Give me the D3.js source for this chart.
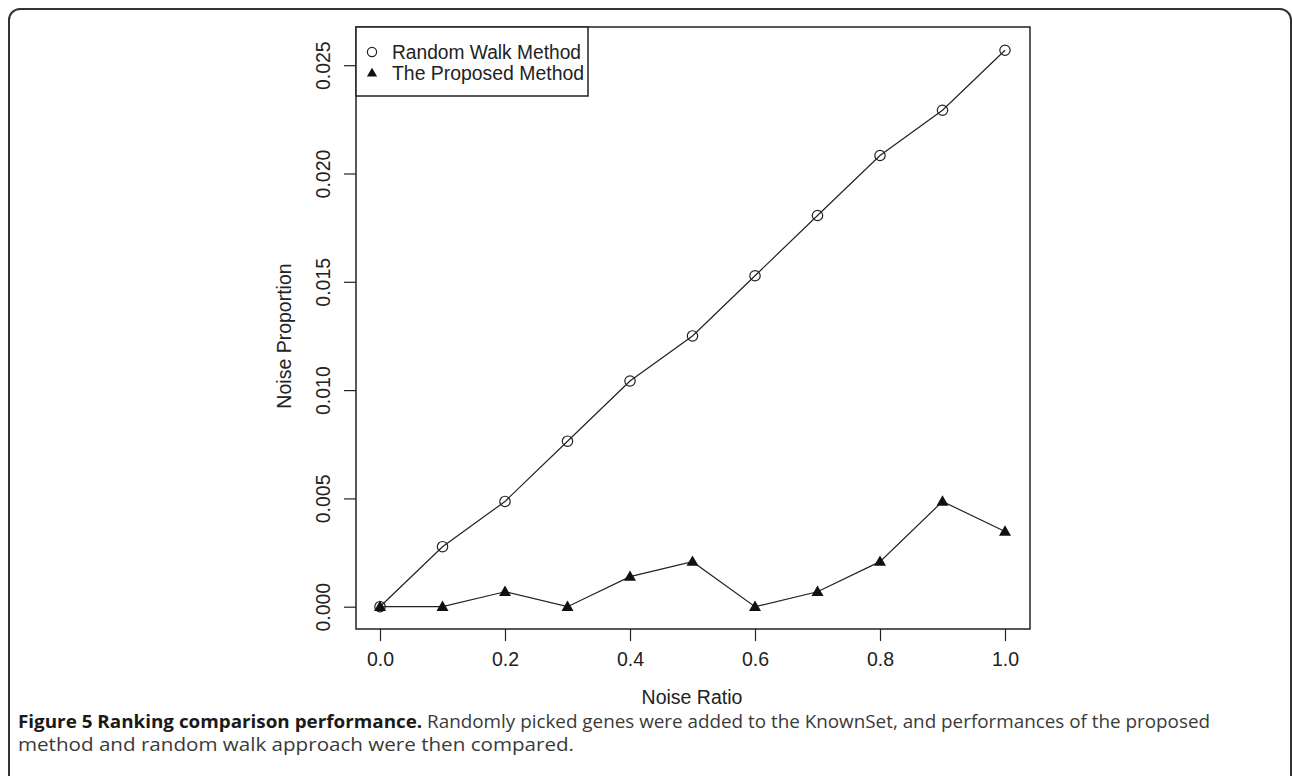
<!DOCTYPE html>
<html>
<head>
<meta charset="utf-8">
<script src="https://cdn.jsdelivr.net/npm/d3@7"></script>
<style>
  html, body { margin: 0; padding: 0; background: #fff; }
  svg { display: block; }
</style>
</head>
<body>
<div id="chart"></div>
<script>
// Chart data
const noiseRatio = [0.0, 0.1, 0.2, 0.3, 0.4, 0.5, 0.6, 0.7, 0.8, 0.9, 1.0];
const randomWalk = [0.0, 0.00277, 0.00486, 0.00764, 0.01042, 0.0125, 0.01528, 0.01806, 0.02083, 0.02292, 0.02569];
const proposed = [0.0, 0.0, 0.00069, 0.0, 0.00139, 0.00208, 0.0, 0.00069, 0.00208, 0.00486, 0.00347];
const xTicks = [0.0, 0.2, 0.4, 0.6, 0.8, 1.0];
const yTicks = [0.000, 0.005, 0.010, 0.015, 0.020, 0.025];
const seriesNames = ['Random Walk Method', 'The Proposed Method'];

const W = 1292, H = 776;
const ink = '#222';
const font = 'Liberation Sans, Arial, Helvetica, sans-serif';
const fs = 19.5;

const svg = d3.select('#chart').append('svg')
    .attr('width', W)
    .attr('height', H);

// Outer figure frame
svg.append('rect')
    .attr('x', 9).attr('y', 9)
    .attr('width', 1282).attr('height', 820)
    .attr('rx', 11)
    .attr('fill', 'none')
    .attr('stroke', '#333')
    .attr('stroke-width', 2);

// Plot box
const box = {left: 356, right: 1030, top: 27, bottom: 629};

const x = d3.scaleLinear().domain([0, 1]).range([380, 1005]);
const y = d3.scaleLinear().domain([0, 0.025]).range([606.7, 65.2]);

// X axis
const xAxis = svg.append('g')
    .attr('transform', `translate(0,${box.bottom})`)
    .call(d3.axisBottom(x).tickValues(xTicks).tickFormat(d3.format('.1f')).tickSize(12).tickPadding(11));
xAxis.select('.domain').remove();
xAxis.selectAll('line').attr('stroke', ink).attr('stroke-width', 1.2);
xAxis.selectAll('text')
    .attr('font-family', font).attr('font-size', fs).attr('fill', ink);

// Y axis
const yAxis = svg.append('g')
    .attr('transform', `translate(${box.left},0)`)
    .call(d3.axisLeft(y).tickValues(yTicks).tickFormat(d3.format('.3f')).tickSize(12));
yAxis.select('.domain').remove();
yAxis.selectAll('line').attr('stroke', ink).attr('stroke-width', 1.2);
yAxis.selectAll('text')
    .attr('font-family', font).attr('font-size', fs).attr('fill', ink)
    .attr('x', null)
    .attr('text-anchor', 'middle')
    .attr('transform', 'translate(-33,0) rotate(-90)')
    .attr('dy', '0.35em');

// Box
svg.append('rect')
    .attr('x', box.left).attr('y', box.top)
    .attr('width', box.right - box.left).attr('height', box.bottom - box.top)
    .attr('fill', 'none')
    .attr('stroke', ink)
    .attr('stroke-width', 1.5);

// Axis titles
svg.append('text')
    .attr('x', 692).attr('y', 704)
    .attr('text-anchor', 'middle')
    .attr('font-family', font).attr('font-size', fs).attr('fill', ink)
    .text('Noise Ratio');

svg.append('text')
    .attr('transform', 'translate(291,336) rotate(-90)')
    .attr('text-anchor', 'middle')
    .attr('font-family', font).attr('font-size', fs).attr('fill', ink)
    .text('Noise Proportion');

// Lines
const line = d3.line()
    .x((d, i) => x(noiseRatio[i]))
    .y(d => y(d));

[randomWalk, proposed].forEach(series => {
    svg.append('path')
        .datum(series)
        .attr('d', line)
        .attr('fill', 'none')
        .attr('stroke', ink)
        .attr('stroke-width', 1.2);
});

// Markers
const triangle = 'M0,-6.2L6,4.2L-6,4.2Z';

svg.selectAll('.circ')
    .data(randomWalk)
    .enter().append('circle')
    .attr('class', 'circ')
    .attr('cx', (d, i) => x(noiseRatio[i]))
    .attr('cy', d => y(d))
    .attr('r', 5.2)
    .attr('fill', 'none')
    .attr('stroke', ink)
    .attr('stroke-width', 1.2);

svg.selectAll('.tri')
    .data(proposed)
    .enter().append('path')
    .attr('class', 'tri')
    .attr('d', triangle)
    .attr('transform', (d, i) => `translate(${x(noiseRatio[i])},${y(d)})`)
    .attr('fill', '#111');

// Legend
const legend = svg.append('g');
legend.append('rect')
    .attr('x', box.left).attr('y', box.top)
    .attr('width', 232).attr('height', 69)
    .attr('fill', '#fff')
    .attr('stroke', ink)
    .attr('stroke-width', 1.5);

legend.append('circle')
    .attr('cx', 372).attr('cy', 52)
    .attr('r', 4.6)
    .attr('fill', 'none')
    .attr('stroke', ink)
    .attr('stroke-width', 1.2);

legend.append('path')
    .attr('d', triangle)
    .attr('transform', 'translate(372,73) scale(0.85)')
    .attr('fill', '#111');

legend.selectAll('.lab')
    .data(seriesNames)
    .enter().append('text')
    .attr('class', 'lab')
    .attr('x', 392)
    .attr('y', (d, i) => 59 + i * 21)
    .attr('font-family', font).attr('font-size', fs).attr('fill', ink)
    .attr('textLength', (d, i) => i ? 192 : 189)
    .attr('lengthAdjust', 'spacingAndGlyphs')
    .text(d => d);

// Caption
const capFont = '"Open Sans", "Noto Sans", sans-serif';
const cap1 = svg.append('text')
    .attr('x', 18).attr('y', 728)
    .attr('font-family', capFont).attr('font-size', 18.5)
    .attr('textLength', 1192)
    .attr('lengthAdjust', 'spacingAndGlyphs');
cap1.append('tspan')
    .attr('font-weight', 'bold').attr('fill', '#1a1a1a')
    .text('Figure 5 Ranking comparison performance.');
cap1.append('tspan')
    .attr('fill', '#3a3a3a')
    .text(' Randomly picked genes were added to the KnownSet, and performances of the proposed');

svg.append('text')
    .attr('x', 18).attr('y', 751)
    .attr('font-family', capFont).attr('font-size', 18.5)
    .attr('fill', '#3a3a3a')
    .attr('textLength', 556)
    .attr('lengthAdjust', 'spacingAndGlyphs')
    .text('method and random walk approach were then compared.');
</script>
</body>
</html>
